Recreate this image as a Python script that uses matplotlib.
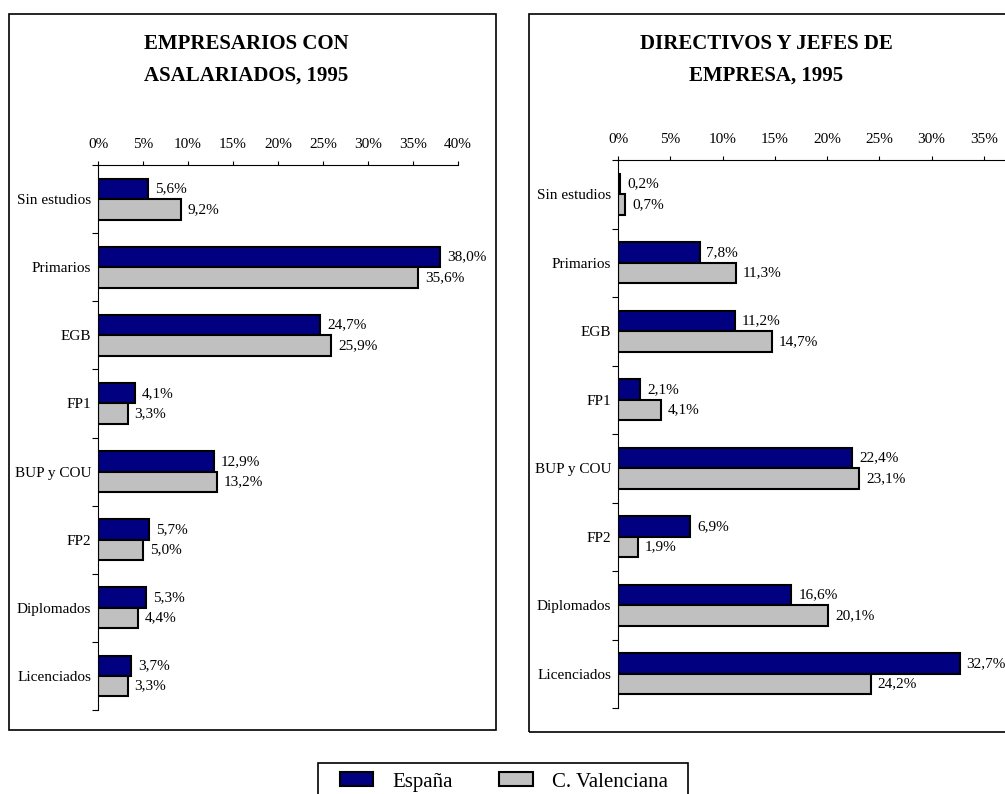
import matplotlib
matplotlib.use("Agg")
import matplotlib.pyplot as plt
import numpy as np
from matplotlib.patches import Rectangle
from matplotlib.ticker import PercentFormatter

plt.rcParams['font.family'] = ['Liberation Serif', 'DejaVu Serif']

categories = ["Sin estudios", "Primarios", "EGB", "FP1", "BUP y COU", "FP2",
              "Diplomados", "Licenciados"]
series_names = ["España", "C. Valenciana"]

# EMPRESARIOS CON ASALARIADOS, 1995
emp_espana = [5.6, 38.0, 24.7, 4.1, 12.9, 5.7, 5.3, 3.7]
emp_valencia = [9.2, 35.6, 25.9, 3.3, 13.2, 5.0, 4.4, 3.3]

# DIRECTIVOS Y JEFES DE EMPRESA, 1995
dir_espana = [0.2, 7.8, 11.2, 2.1, 22.4, 6.9, 16.6, 32.7]
dir_valencia = [0.7, 11.3, 14.7, 4.1, 23.1, 1.9, 20.1, 24.2]

titles = ["EMPRESARIOS CON\nASALARIADOS, 1995",
          "DIRECTIVOS Y JEFES DE\nEMPRESA, 1995"]

col_esp = "#000080"
col_val = "#C0C0C0"

W, H = 1005, 794
fig = plt.figure(figsize=(W / 100, H / 100), dpi=100)


def px_rect(x0, y0, x1, y1):
    # pixel box (top-left origin) -> figure fraction [left, bottom, w, h]
    return [x0 / W, (H - y1) / H, (x1 - x0) / W, (y1 - y0) / H]


def frame(x0, y0, x1, y1):
    l, b, w, h = px_rect(x0, y0, x1, y1)
    fig.patches.append(Rectangle((l, b), w, h, transform=fig.transFigure,
                                 fill=False, edgecolor="black", linewidth=1.2))


def draw_panel(rect, esp, val, xmax_tick):
    ax = fig.add_axes(rect)
    y = np.arange(len(categories))
    h = 0.30
    b1 = ax.barh(y - h / 2, esp, h, color=col_esp, edgecolor="black", linewidth=1.5,
                 label=series_names[0])
    b2 = ax.barh(y + h / 2, val, h, color=col_val, edgecolor="black", linewidth=1.5,
                 label=series_names[1])
    for bars in (b1, b2):
        for bar in bars:
            v = bar.get_width()
            ax.annotate(f"{v:.1f}%".replace(".", ","),
                        (v, bar.get_y() + bar.get_height() / 2),
                        xytext=(5, 0), textcoords="offset points",
                        ha="left", va="center", fontsize=11, annotation_clip=False)
    ax.set_xlim(0, 40)
    ax.set_ylim(len(categories) - 0.5, -0.5)
    ax.xaxis.tick_top()
    ax.set_xticks(np.arange(0, xmax_tick + 1, 5))
    ax.xaxis.set_major_formatter(PercentFormatter(decimals=0))
    ax.tick_params(axis="x", direction="out", length=3, width=0.8, pad=7, labelsize=11)
    # category boundaries as ticks, labels at centres
    ax.set_yticks(np.arange(len(categories) + 1) - 0.5)
    ax.set_yticklabels([])
    ax.set_yticks(y, minor=True)
    ax.set_yticklabels(categories, minor=True, fontsize=11)
    ax.tick_params(axis="y", which="major", direction="out", length=4, width=0.8)
    ax.tick_params(axis="y", which="minor", length=0, pad=5)
    for s in ("right", "bottom"):
        ax.spines[s].set_visible(False)
    for s in ("left", "top"):
        ax.spines[s].set_linewidth(0.8)
    ax.patch.set_alpha(0)
    return b1, b2


# panel frames
frame(9, 14, 496, 730)
frame(529, 14, 1019, 732)

handles = draw_panel(px_rect(98, 165, 458, 710), emp_espana, emp_valencia, 40)
draw_panel(px_rect(618, 160, 1036, 708), dir_espana, dir_valencia, 35)

fig.text(246 / W, 1 - 60 / H, titles[0], ha="center", va="center",
         fontsize=15, fontweight="bold", linespacing=1.75)
fig.text(766 / W, 1 - 60 / H, titles[1], ha="center", va="center",
         fontsize=15, fontweight="bold", linespacing=1.75)

# legend box runs off the bottom edge, as in the source
frame(318, 763, 688, 800)
fig.legend(handles, series_names, loc="upper center",
           bbox_to_anchor=(504 / W, 1 - 763 / H), ncol=2, fontsize=15,
           frameon=False, handlelength=1.6, handleheight=0.65, handletextpad=0.95,
           columnspacing=2.2, borderpad=0.45, borderaxespad=0)

fig.savefig("out.png", dpi=100)
